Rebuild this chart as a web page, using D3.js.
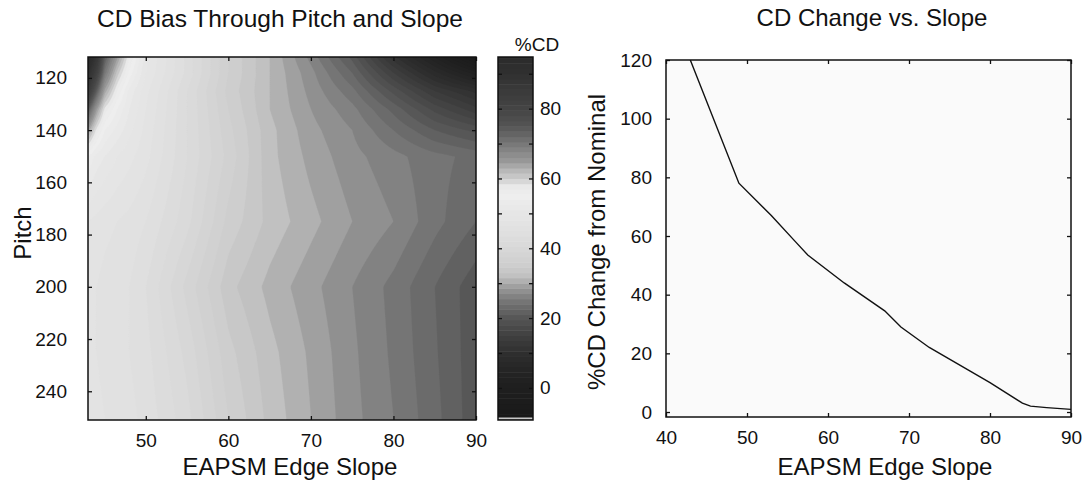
<!DOCTYPE html>
<html>
<head>
<meta charset="utf-8">
<script src="https://cdn.jsdelivr.net/npm/d3@7"></script>
<style>
  body { margin: 0; background: #fff; }
  text { font-family: "Liberation Sans", Arial, sans-serif; fill: #111; }
</style>
</head>
<body>
<div class="visData"></div>
<script>
const w = 1084;
const h = 483;

// left panel grid: slope columns, pitch rows, %CD per cell
const slopes = [43, 44, 45, 46.5, 48, 50, 55, 60, 65, 70, 75, 80, 85, 90];
const pitches = [112, 118, 125, 132, 140, 150, 175, 200, 225, 250];
const cdBias = [
  [96, 88, 74, 65, 57, 50, 43, 36, 31.5, 26.5, 20.5, 11, 3, -6],
  [91, 82, 70, 61, 55, 49.5, 43, 36, 31.5, 27.5, 22.5, 15, 8, 2],
  [84, 74, 64, 57, 52, 48.5, 42, 35.5, 31.5, 28, 24.5, 19, 13.5, 10],
  [74, 65, 58, 54, 51, 48, 42, 36, 31.5, 28.5, 26, 22, 17.5, 14],
  [64, 58, 54, 52, 50, 47.5, 42, 36.5, 32, 29, 27, 24, 21, 19],
  [54, 52, 51, 49.5, 48.5, 47, 42, 37, 32, 29.5, 27.5, 26, 24.5, 23.5],
  [48, 47.5, 47, 46.5, 46, 45, 41, 35.5, 32.5, 30.5, 28.5, 27, 24.5, 22.5],
  [47, 46.5, 46, 45.5, 45, 43.5, 38.5, 33.5, 31, 29, 27, 25, 22.5, 20],
  [47, 46.5, 46, 45.5, 45, 44, 40, 35, 32, 29.7, 27.3, 25.2, 22.7, 20],
  [47.5, 47, 46.5, 46, 45.5, 44.5, 41, 36, 32.5, 30, 27.5, 25.5, 23, 20]
];
const pitchTicks = [120, 140, 160, 180, 200, 220, 240];
const slopeTicksLeft = [50, 60, 70, 80, 90];
const cbTicks = [0, 10, 20, 30, 40, 50, 60, 70, 80, 90];
const cbLabels = [0, 20, 40, 60, 80];

// right panel line
const lineSlope = [43, 49, 53, 56, 57.5, 62, 67, 69, 72.5, 77.5, 80, 84, 85, 87, 90];
const lineChange = [120, 78, 67, 58, 53.5, 44, 34.5, 29, 22, 14, 10, 3, 2, 1.5, 0.9];
const slopeTicksRight = [40, 50, 60, 70, 80, 90];
const changeTicks = [0, 20, 40, 60, 80, 100, 120];

// gray colormap
const cmapVals = [-10, 0, 5, 10, 15, 20, 25, 27, 30, 32, 35, 40, 45, 50, 55, 58, 60, 62, 65, 70, 75, 80, 90, 96];
const cmapGrays = [0x18, 0x1e, 0x24, 0x2e, 0x40, 0x55, 0x77, 0x88, 0xa8, 0xc0, 0xcd, 0xd8, 0xe0, 0xe6, 0xee, 0xe8, 0xcc, 0xbb, 0x99, 0x77, 0x55, 0x44, 0x30, 0x2a];

const color = d3
  .scaleLinear()
  .domain(cmapVals)
  .range(cmapGrays.map((g) => d3.rgb(g, g, g)))
  .clamp(true);

const svg = d3
  .select(".visData")
  .append("svg")
  .attr("width", w)
  .attr("height", h);

const fontTick = "19px";
const fontBig = "24px";

// ---------- left: contour map ----------
const L = { x0: 88, x1: 476, y0: 57, y1: 420 };
const xL = d3.scaleLinear().domain([43, 90]).range([L.x0, L.x1]);
const yL = d3.scaleLinear().domain([112, 251]).range([L.y0, L.y1]);

function lookup(arr, v) {
  let i = d3.bisectRight(arr, v) - 1;
  i = Math.max(0, Math.min(arr.length - 2, i));
  const t = Math.max(0, Math.min(1, (v - arr[i]) / (arr[i + 1] - arr[i])));
  return [i, t];
}
function biasAt(s, p) {
  const [i, tx] = lookup(slopes, s);
  const [j, ty] = lookup(pitches, p);
  const a = cdBias[j][i], b = cdBias[j][i + 1];
  const c = cdBias[j + 1][i], d = cdBias[j + 1][i + 1];
  return (a * (1 - tx) + b * tx) * (1 - ty) + (c * (1 - tx) + d * tx) * ty;
}

const nx = 240, ny = 180;
const grid = new Array(nx * ny);
for (let j = 0; j < ny; j++) {
  for (let i = 0; i < nx; i++) {
    const s = xL.invert(L.x0 + ((i + 0.5) / nx) * (L.x1 - L.x0));
    const p = yL.invert(L.y0 + ((j + 0.5) / ny) * (L.y1 - L.y0));
    grid[j * nx + i] = biasAt(s, p);
  }
}
const step = 1.5;
const levels = d3.range(-12, 98, step);
const contours = d3.contours().size([nx, ny]).thresholds(levels)(grid);

const proj = d3.geoTransform({
  point: function (x, y) {
    this.stream.point(L.x0 + (x / nx) * (L.x1 - L.x0), L.y0 + (y / ny) * (L.y1 - L.y0));
  }
});
const path = d3.geoPath(proj);

svg.append("clipPath").attr("id", "clipL")
  .append("rect").attr("x", L.x0).attr("y", L.y0)
  .attr("width", L.x1 - L.x0).attr("height", L.y1 - L.y0);

const map = svg.append("g").attr("clip-path", "url(#clipL)");
map.append("rect")
  .attr("x", L.x0).attr("y", L.y0)
  .attr("width", L.x1 - L.x0).attr("height", L.y1 - L.y0)
  .attr("fill", color(levels[0]));
map.selectAll("path")
  .data(contours)
  .enter()
  .append("path")
  .attr("d", path)
  .attr("fill", (d) => color(d.value + step / 2))
  .attr("stroke", (d) => color(d.value + step / 2))
  .attr("stroke-width", 0.3);

// axes, MATLAB style ticks pointing inward
function styleAxis(g) {
  g.select(".domain").remove();
  g.selectAll("line").attr("stroke", "#111").attr("stroke-width", 1.3);
  g.selectAll("text").style("font-size", fontTick).attr("fill", "#111");
}

svg.append("g")
  .attr("transform", `translate(0,${L.y1})`)
  .call(d3.axisBottom(xL).tickValues(slopeTicksLeft).tickSizeInner(-4).tickSizeOuter(0).tickPadding(14))
  .call(styleAxis);
svg.append("g")
  .attr("transform", `translate(0,${L.y0})`)
  .call(d3.axisTop(xL).tickValues(slopeTicksLeft).tickSizeInner(-4).tickSizeOuter(0).tickFormat(""))
  .call(styleAxis);
svg.append("g")
  .attr("transform", `translate(${L.x0},0)`)
  .call(d3.axisLeft(yL).tickValues(pitchTicks).tickSizeInner(-4).tickSizeOuter(0).tickPadding(21))
  .call(styleAxis);
svg.append("g")
  .attr("transform", `translate(${L.x1},0)`)
  .call(d3.axisRight(yL).tickValues(pitchTicks).tickSizeInner(-4).tickSizeOuter(0).tickFormat(""))
  .call(styleAxis);

svg.append("rect")
  .attr("x", L.x0).attr("y", L.y0)
  .attr("width", L.x1 - L.x0).attr("height", L.y1 - L.y0)
  .attr("fill", "none").attr("stroke", "#111").attr("stroke-width", 1.5);

svg.append("text")
  .attr("x", 280).attr("y", 27)
  .attr("text-anchor", "middle")
  .style("font-size", "24.5px")
  .text("CD Bias Through Pitch and Slope");
svg.append("text")
  .attr("x", 290).attr("y", 475)
  .attr("text-anchor", "middle")
  .style("font-size", fontBig)
  .text("EAPSM Edge Slope");
svg.append("text")
  .attr("transform", "translate(31,233) rotate(-90)")
  .attr("text-anchor", "middle")
  .style("font-size", fontBig)
  .text("Pitch");

// ---------- colorbar ----------
const CB = { x0: 498, x1: 533, y0: 57, y1: 420 };
const yCB = d3.scaleLinear().domain([-9.2, 94.8]).range([CB.y1, CB.y0]);

svg.append("clipPath").attr("id", "clipCB")
  .append("rect").attr("x", CB.x0).attr("y", CB.y0)
  .attr("width", CB.x1 - CB.x0).attr("height", CB.y1 - CB.y0);

svg.append("g")
  .attr("clip-path", "url(#clipCB)")
  .selectAll("rect")
  .data(levels)
  .enter()
  .append("rect")
  .attr("x", CB.x0)
  .attr("y", (d) => yCB(d + step))
  .attr("width", CB.x1 - CB.x0)
  .attr("height", (d) => yCB(d) - yCB(d + step) + 0.5)
  .attr("fill", (d) => color(d + step / 2));

svg.append("rect")
  .attr("x", CB.x0).attr("y", CB.y1 - 2.5)
  .attr("width", CB.x1 - CB.x0).attr("height", 2)
  .attr("fill", "#c8c8c8");

svg.append("g")
  .attr("transform", `translate(${CB.x1},0)`)
  .call(d3.axisRight(yCB).tickValues(cbTicks).tickSizeInner(-4).tickSizeOuter(0).tickPadding(7)
    .tickFormat((d) => (cbLabels.includes(d) ? d : "")))
  .call(styleAxis);
svg.append("g")
  .attr("transform", `translate(${CB.x0},0)`)
  .call(d3.axisLeft(yCB).tickValues(cbTicks).tickSizeInner(-4).tickSizeOuter(0).tickFormat(""))
  .call(styleAxis);

svg.append("rect")
  .attr("x", CB.x0).attr("y", CB.y0)
  .attr("width", CB.x1 - CB.x0).attr("height", CB.y1 - CB.y0)
  .attr("fill", "none").attr("stroke", "#111").attr("stroke-width", 1.5);

svg.append("text")
  .attr("x", 537).attr("y", 51)
  .attr("text-anchor", "middle")
  .style("font-size", "19px")
  .text("%CD");

// ---------- right: line plot ----------
const R = { x0: 666, x1: 1071, y0: 60, y1: 417 };
const xR = d3.scaleLinear().domain([40, 90]).range([R.x0, R.x1]);
const yR = d3.scaleLinear().domain([-1.7, 120]).range([R.y1, R.y0]);

svg.append("rect")
  .attr("x", R.x0).attr("y", R.y0)
  .attr("width", R.x1 - R.x0).attr("height", R.y1 - R.y0)
  .attr("fill", "#fafafa");

svg.append("clipPath").attr("id", "clipR")
  .append("rect").attr("x", R.x0).attr("y", R.y0)
  .attr("width", R.x1 - R.x0).attr("height", R.y1 - R.y0);

const lineData = lineSlope.map((s, i) => ({ s: s, v: lineChange[i] }));
svg.append("path")
  .datum(lineData)
  .attr("clip-path", "url(#clipR)")
  .attr("fill", "none")
  .attr("stroke", "#111")
  .attr("stroke-width", 1.4)
  .attr("d", d3.line().x((d) => xR(d.s)).y((d) => yR(d.v)));

svg.append("g")
  .attr("transform", `translate(0,${R.y1})`)
  .call(d3.axisBottom(xR).tickValues(slopeTicksRight).tickSizeInner(-4).tickSizeOuter(0).tickPadding(14))
  .call(styleAxis);
svg.append("g")
  .attr("transform", `translate(0,${R.y0})`)
  .call(d3.axisTop(xR).tickValues(slopeTicksRight).tickSizeInner(-4).tickSizeOuter(0).tickFormat(""))
  .call(styleAxis);
svg.append("g")
  .attr("transform", `translate(${R.x0},0)`)
  .call(d3.axisLeft(yR).tickValues(changeTicks).tickSizeInner(-4).tickSizeOuter(0).tickPadding(14))
  .call(styleAxis);
svg.append("g")
  .attr("transform", `translate(${R.x1},0)`)
  .call(d3.axisRight(yR).tickValues(changeTicks).tickSizeInner(-4).tickSizeOuter(0).tickFormat(""))
  .call(styleAxis);

svg.append("rect")
  .attr("x", R.x0).attr("y", R.y0)
  .attr("width", R.x1 - R.x0).attr("height", R.y1 - R.y0)
  .attr("fill", "none").attr("stroke", "#111").attr("stroke-width", 1.5);

svg.append("text")
  .attr("x", 872).attr("y", 26)
  .attr("text-anchor", "middle")
  .style("font-size", fontBig)
  .text("CD Change vs. Slope");
svg.append("text")
  .attr("x", 885).attr("y", 475)
  .attr("text-anchor", "middle")
  .style("font-size", fontBig)
  .text("EAPSM Edge Slope");
svg.append("text")
  .attr("transform", "translate(605,242) rotate(-90)")
  .attr("text-anchor", "middle")
  .style("font-size", fontBig)
  .text("%CD Change from Nominal");
</script>
</body>
</html>
